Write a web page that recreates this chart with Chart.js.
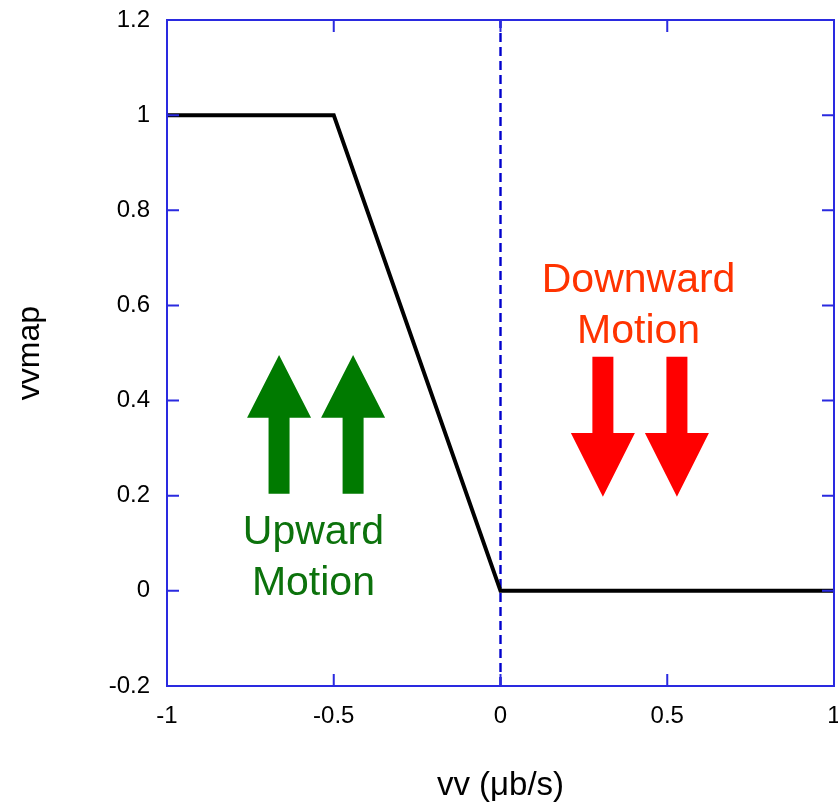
<!DOCTYPE html>
<html>
<head>
<meta charset="utf-8">
<script src="https://cdn.jsdelivr.net/npm/chart.js@4.4.1/dist/chart.umd.min.js"></script>
<style>
  html, body { margin: 0; padding: 0; background: #ffffff; }
  #c { display: block; }
</style>
</head>
<body>
<canvas id="c" width="838" height="802"></canvas>
<script>
// ---- data ----
const curveX = [-1, -0.5, 0, 1];
const curveY = [1, 1, 0, 0];
const zeroLineX = [0, 0];
const zeroLineY = [-0.2, 1.2];
const xTicks = [-1, -0.5, 0, 0.5, 1];
const yTicks = [-0.2, 0, 0.2, 0.4, 0.6, 0.8, 1, 1.2];
const xTickLabels = ['-1', '-0.5', '0', '0.5', '1'];
const yTickLabels = ['-0.2', '0', '0.2', '0.4', '0.6', '0.8', '1', '1.2'];
const xTitle = 'vv (\u03BCb/s)';
const yTitle = 'vvmap';

// annotation arrows (data coordinates): x, tail y, head base y, tip y
const upArrowsX = [-0.664, -0.442];
const upArrowY = { tail: 0.204, base: 0.364, tip: 0.496 };
const downArrowsX = [0.307, 0.529];
const downArrowY = { tail: 0.492, base: 0.332, tip: 0.198 };
const upLabel = ['Upward', 'Motion'];
const upLabelPos = { x: -0.561, y: [0.099, -0.008] };
const downLabel = ['Downward', 'Motion'];
const downLabelPos = { x: 0.414, y: [0.629, 0.521] };

const FRAME = '#2a2ae0';

const framePlugin = {
  id: 'frameTicks',
  afterDatasetsDraw(chart) {
    const { ctx, chartArea: a, scales: { x, y } } = chart;
    ctx.save();
    ctx.strokeStyle = FRAME;
    ctx.lineWidth = 2;
    ctx.strokeRect(a.left, a.top, a.right - a.left, a.bottom - a.top);
    const tl = 12;
    ctx.beginPath();
    xTicks.forEach(v => {
      const px = x.getPixelForValue(v);
      ctx.moveTo(px, a.bottom); ctx.lineTo(px, a.bottom - tl);
      ctx.moveTo(px, a.top); ctx.lineTo(px, a.top + tl);
    });
    yTicks.forEach(v => {
      const py = y.getPixelForValue(v);
      ctx.moveTo(a.left, py); ctx.lineTo(a.left + tl, py);
      ctx.moveTo(a.right, py); ctx.lineTo(a.right - tl, py);
    });
    ctx.stroke();
    ctx.restore();
  },
  afterDraw(chart) {
    const { ctx, scales: { x, y } } = chart;
    ctx.save();
    const arrow = (cx, yTail, yBase, yTip, color) => {
      const px = x.getPixelForValue(cx);
      const pt = y.getPixelForValue(yTail);
      const pb = y.getPixelForValue(yBase);
      const pp = y.getPixelForValue(yTip);
      const sh = 10.5, hh = 32;
      ctx.fillStyle = color;
      ctx.beginPath();
      ctx.moveTo(px - sh, pt);
      ctx.lineTo(px - sh, pb);
      ctx.lineTo(px - hh, pb);
      ctx.lineTo(px, pp);
      ctx.lineTo(px + hh, pb);
      ctx.lineTo(px + sh, pb);
      ctx.lineTo(px + sh, pt);
      ctx.closePath();
      ctx.fill();
    };
    upArrowsX.forEach(v => arrow(v, upArrowY.tail, upArrowY.base, upArrowY.tip, '#007a00'));
    downArrowsX.forEach(v => arrow(v, downArrowY.tail, downArrowY.base, downArrowY.tip, '#ff0000'));
    ctx.font = '41px "Liberation Sans", Arial, sans-serif';
    ctx.textAlign = 'center';
    ctx.textBaseline = 'alphabetic';
    ctx.fillStyle = '#0c720c';
    upLabel.forEach((t, i) => ctx.fillText(t, x.getPixelForValue(upLabelPos.x), y.getPixelForValue(upLabelPos.y[i])));
    ctx.fillStyle = '#ff3300';
    downLabel.forEach((t, i) => ctx.fillText(t, x.getPixelForValue(downLabelPos.x), y.getPixelForValue(downLabelPos.y[i])));
    ctx.restore();
  }
};

const tickFont = { family: '"Liberation Sans", Arial, sans-serif', size: 24 };
const titleFont = { family: '"Liberation Sans", Arial, sans-serif', size: 32, lineHeight: 1 };
const xTitleFont = { family: '"Liberation Sans", Arial, sans-serif', size: 33, lineHeight: 1 };

new Chart(document.getElementById('c'), {
  type: 'scatter',
  data: {
    datasets: [
      {
        data: curveX.map((v, i) => ({ x: v, y: curveY[i] })),
        showLine: true, borderColor: '#000000', borderWidth: 4,
        pointRadius: 0, fill: false, order: 1, borderJoinStyle: 'miter'
      },
      {
        data: zeroLineX.map((v, i) => ({ x: v, y: zeroLineY[i] })),
        showLine: true, borderColor: '#0000cc', borderWidth: 2.4, borderDash: [9, 5],
        pointRadius: 0, fill: false, order: 2
      }
    ]
  },
  options: {
    responsive: false,
    animation: false,
    events: [],
    layout: { padding: { left: 0, top: 20, right: 4, bottom: 0 } },
    plugins: { legend: { display: false }, tooltip: { enabled: false } },
    scales: {
      x: {
        type: 'linear', min: -1, max: 1,
        afterBuildTicks: s => { s.ticks = xTicks.map(v => ({ value: v })); },
        afterFit: s => { s.height = 116; s.paddingLeft = 0; s.paddingRight = 0; },
        ticks: {
          color: '#000', font: tickFont, padding: 16, maxRotation: 0,
          callback: (v) => xTickLabels[xTicks.indexOf(v)]
        },
        grid: { display: false, drawTicks: false },
        border: { display: false },
        title: { display: true, text: xTitle, color: '#000', font: xTitleFont, padding: { top: 0, bottom: 0 } }
      },
      y: {
        type: 'linear', min: -0.2, max: 1.2,
        afterBuildTicks: s => { s.ticks = yTicks.map(v => ({ value: v })); },
        afterFit: s => { s.width = 167; s.paddingTop = 0; s.paddingBottom = 0; },
        ticks: {
          color: '#000', font: tickFont, padding: 17,
          callback: (v) => yTickLabels[yTicks.findIndex(t => Math.abs(t - v) < 1e-9)]
        },
        grid: { display: false, drawTicks: false },
        border: { display: false },
        title: { display: true, text: yTitle, color: '#000', font: titleFont, padding: { top: 14, bottom: 0 } }
      }
    }
  },
  plugins: [framePlugin]
});
</script>
</body>
</html>
